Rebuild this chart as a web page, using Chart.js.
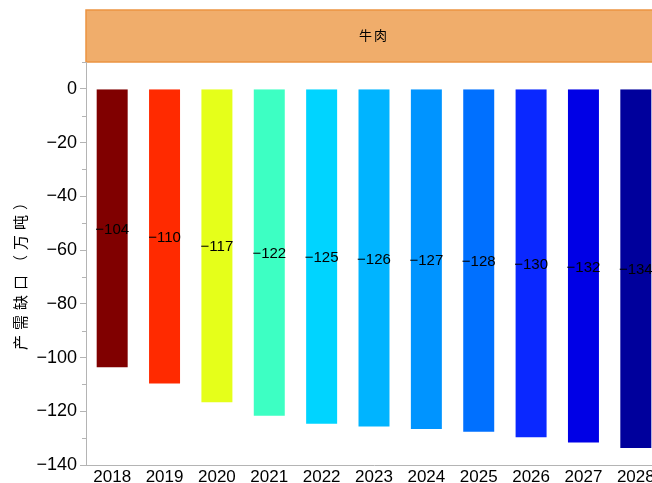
<!DOCTYPE html>
<html>
<head>
<meta charset="utf-8">
<script src="https://cdn.jsdelivr.net/npm/chart.js@4/dist/chart.umd.min.js"></script>
<style>
  html, body { margin: 0; padding: 0; background: #fff; overflow: hidden; }
  #wrap { width: 664px; height: 483px; position: relative; }
</style>
</head>
<body>
<div id="wrap"><canvas id="gapChart"></canvas></div>
<script>
// 牛肉 产需缺口
const years = ["2018", "2019", "2020", "2021", "2022", "2023", "2024", "2025", "2026", "2027", "2028"];
const gap = [-104, -110, -117, -122, -125, -126, -127, -128, -130, -132, -134];
const barColors = ["#800000", "#ff2a00", "#e5ff1a", "#3dffc3", "#00d4ff", "#00b4ff", "#0094ff",
                   "#0070ff", "#0a28ff", "#0000e6", "#00009c"];
const panelTitle = "牛肉";
const yTitle = "产需缺口（万吨）";

const minus = v => String(v).replace("-", "\u2212");

// header strip, axis title, minor ticks and value labels
const decor = {
    id: "decor",
    beforeDraw(chart) {
        const { ctx, chartArea } = chart;
        ctx.save();
        ctx.fillStyle = "#f0ad6b";
        ctx.strokeStyle = "#eb9442";
        ctx.lineWidth = 1.5;
        ctx.fillRect(chartArea.left, 10, chartArea.right - chartArea.left, 52);
        ctx.strokeRect(chartArea.left, 10, chartArea.right - chartArea.left, 52);
        ctx.fillStyle = "#000";
        ctx.font = "13px 'Noto Sans CJK SC'";
        ctx.letterSpacing = "2px";
        ctx.textAlign = "center";
        ctx.textBaseline = "middle";
        ctx.fillText(panelTitle, (chartArea.left + chartArea.right) / 2, 35);
        ctx.restore();
    },
    afterDraw(chart) {
        const { ctx, chartArea } = chart;
        const y = chart.scales.y;
        ctx.save();
        // minor ticks
        ctx.strokeStyle = "#b4b4b4";
        ctx.lineWidth = 1;
        for (let v = -130; v <= 10; v += 20) {
            const py = Math.round(y.getPixelForValue(v)) + 0.5;
            ctx.beginPath();
            ctx.moveTo(chartArea.left - 4, py);
            ctx.lineTo(chartArea.left, py);
            ctx.stroke();
        }
        // y title
        ctx.translate(20, 270);
        ctx.rotate(-Math.PI / 2);
        ctx.fillStyle = "#000";
        ctx.font = "15px 'Noto Sans CJK SC'";
        ctx.letterSpacing = "5px";
        ctx.textAlign = "center";
        ctx.textBaseline = "middle";
        ctx.fillText(yTitle, 0, 0);
        ctx.restore();
    },
    afterDatasetsDraw(chart) {
        const { ctx } = chart;
        const meta = chart.getDatasetMeta(0);
        ctx.save();
        ctx.fillStyle = "#000";
        ctx.font = "15px 'Liberation Sans'";
        ctx.textAlign = "center";
        ctx.textBaseline = "middle";
        meta.data.forEach((bar, i) => {
            ctx.fillText(minus(gap[i]), bar.x, (bar.y + bar.base) / 2 + 1);
        });
        ctx.restore();
    }
};

new Chart(document.getElementById("gapChart"), {
    type: "bar",
    data: {
        labels: years,
        datasets: [{
            data: gap,
            backgroundColor: barColors,
            borderColor: "rgba(255,255,255,0.35)",
            borderWidth: 1,
            barPercentage: 0.63,
            categoryPercentage: 1
        }]
    },
    options: {
        responsive: true,
        maintainAspectRatio: false,
        animation: false,
        layout: { padding: { top: 62, right: 2, left: 0, bottom: 0 } },
        plugins: {
            legend: { display: false },
            tooltip: { enabled: false }
        },
        scales: {
            x: {
                offset: true,
                grid: { display: false, drawTicks: false },
                border: { color: "#b4b4b4", width: 1 },
                ticks: {
                    color: "#000",
                    font: { family: "'Liberation Sans'", size: 17 },
                    padding: 2,
                    maxRotation: 0
                },
                afterFit(scale) { scale.height = 18; }
            },
            y: {
                min: -140,
                max: 10,
                grid: {
                    drawOnChartArea: false,
                    tickLength: 6,
                    color: "#b4b4b4"
                },
                border: { color: "#b4b4b4", width: 1 },
                ticks: {
                    stepSize: 20,
                    color: "#000",
                    padding: 3,
                    font: { family: "'Liberation Sans'", size: 18 },
                    callback: v => (v % 20 === 0 ? minus(v) : "")
                },
                afterBuildTicks(scale) {
                    scale.ticks = [];
                    for (let v = -140; v <= 0; v += 20) scale.ticks.push({ value: v });
                },
                afterFit(scale) { scale.width = 86; }
            }
        }
    },
    plugins: [decor]
});
</script>
</body>
</html>
